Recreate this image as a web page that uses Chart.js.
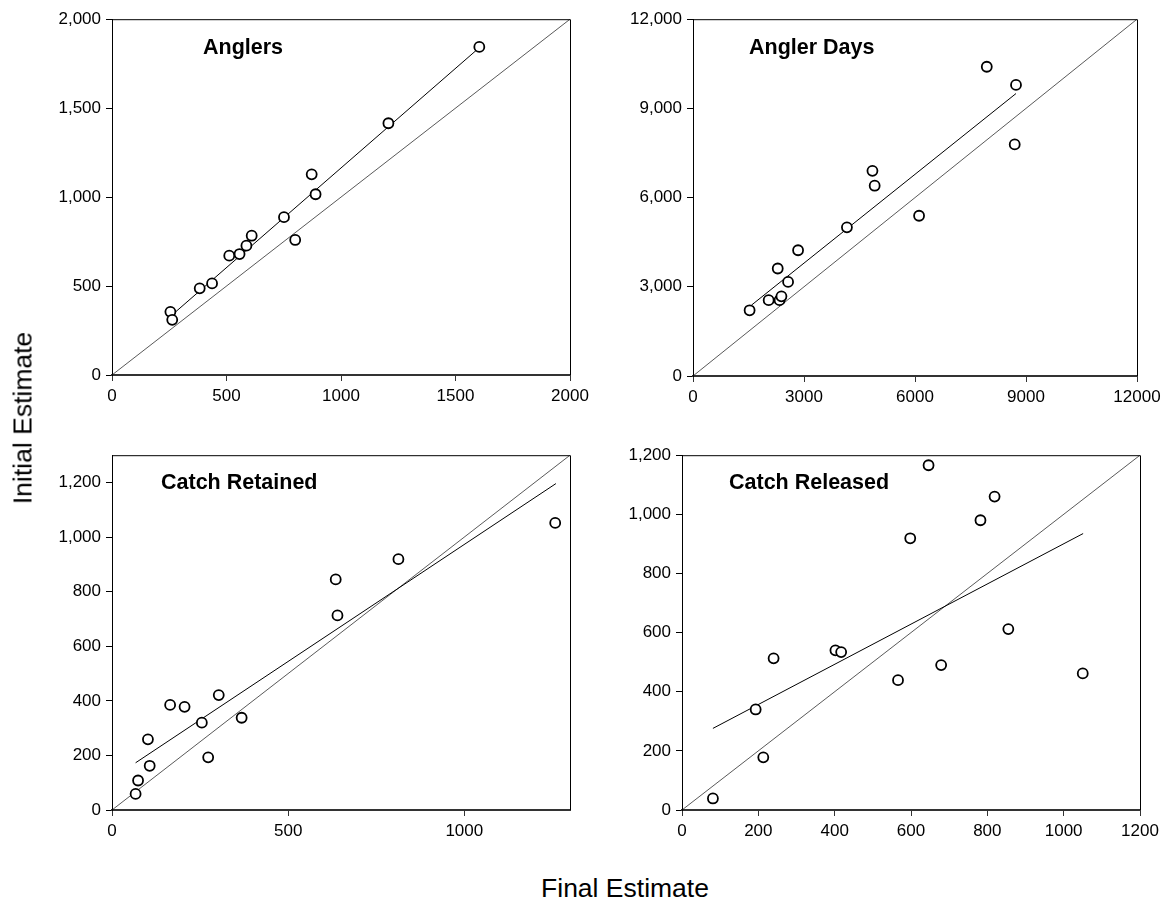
<!DOCTYPE html>
<html>
<head>
<meta charset="utf-8">
<script src="https://cdn.jsdelivr.net/npm/chart.js@4.4.1/dist/chart.umd.min.js"></script>
<style>
  body { margin: 0; background: #fff; width: 1169px; height: 905px; position: relative; overflow: hidden; }
  canvas { position: absolute; }
  .axis-title { position: absolute; font-family: "Liberation Sans", Arial, sans-serif; font-size: 26.5px; color: #000; white-space: nowrap; }
  #ytitle { left: 23px; top: 418px; transform: translate(-50%, -50%) rotate(-90deg); }
  #xtitle { left: 625px; top: 888px; transform: translate(-50%, -50%); }
</style>
</head>
<body>
<canvas id="c1"></canvas>
<canvas id="c2"></canvas>
<canvas id="c3"></canvas>
<canvas id="c4"></canvas>
<div class="axis-title" id="ytitle">Initial Estimate</div>
<div class="axis-title" id="xtitle">Final Estimate</div>
<script>
// panel titles
var panelTitles = ["Anglers", "Angler Days", "Catch Retained", "Catch Released"];

// Anglers
var anglersFinal = [255, 263, 383, 437, 512, 557, 587, 610, 751, 800, 872, 889, 1207, 1604];
var anglersInitial = [355, 310, 487, 515, 671, 680, 727, 783, 887, 759, 1128, 1016, 1415, 1844];
var anglersFitX = [260, 1604];
var anglersFitY = [335, 1840];
var anglersTicks = [0, 500, 1000, 1500, 2000];

// Angler days
var daysFinal = [1530, 2045, 2340, 2390, 2290, 2570, 2840, 4160, 4850, 4910, 6110, 7940, 8730, 8695];
var daysInitial = [2210, 2550, 2550, 2680, 3615, 3165, 4230, 5000, 6900, 6400, 5390, 10400, 9790, 7790];
var daysFitX = [1577, 8730];
var daysFitY = [2380, 9500];
var daysTicks = [0, 3000, 6000, 9000, 12000];

// Catch retained
var retainedFinal = [67, 74, 107, 102, 165, 206, 255, 273, 303, 368, 635, 640, 813, 1258];
var retainedInitial = [59, 108, 162, 259, 385, 378, 320, 193, 421, 338, 845, 713, 919, 1052];
var retainedFitX = [67, 1260];
var retainedFitY = [173, 1196];
var retainedXTicks = [0, 500, 1000];
var retainedYTicks = [0, 200, 400, 600, 800, 1000, 1200];

// Catch released
var releasedFinal = [81, 193, 213, 240, 402, 417, 566, 598, 646, 679, 782, 819, 855, 1050];
var releasedInitial = [39, 340, 178, 513, 540, 534, 439, 919, 1166, 490, 980, 1060, 612, 462];
var releasedFitX = [81, 1051];
var releasedFitY = [276, 935];
var releasedTicks = [0, 200, 400, 600, 800, 1000, 1200];

var FONT = "'Liberation Sans', Arial, sans-serif";
var PADL = 75, PADT = 15, PADR = 30, PADB = 45;

function pairs(xs, ys) {
  return xs.map(function (x, i) { return { x: x, y: ys[i] }; });
}

var framePlugin = {
  id: "frame",
  afterDraw: function (chart) {
    var a = chart.chartArea, ctx = chart.ctx;
    ctx.save();
    ctx.strokeStyle = "#000";
    ctx.lineWidth = 1;
    ctx.beginPath();
    ctx.moveTo(a.left, a.top + 0.5);
    ctx.lineTo(a.right + 0.5, a.top + 0.5);
    ctx.lineTo(a.right + 0.5, a.bottom);
    ctx.stroke();
    ctx.restore();
  }
};

var titlePlugin = {
  id: "panelTitle",
  afterDraw: function (chart, args, opts) {
    var a = chart.chartArea, ctx = chart.ctx;
    ctx.save();
    ctx.font = "bold 21.5px " + FONT;
    ctx.fillStyle = "#000";
    ctx.textBaseline = "middle";
    ctx.fillText(opts.text, a.left + opts.dx, a.top + opts.dy);
    ctx.restore();
  }
};

function makePanel(id, area, cfg) {
  var cv = document.getElementById(id);
  cv.width = (area.r - area.l) + PADL + PADR;
  cv.height = (area.b - area.t) + PADT + PADB;
  cv.style.left = (area.l - PADL) + "px";
  cv.style.top = (area.t - PADT) + "px";

  function axis(min, max, ticks, commas, isX) {
    return {
      type: "linear",
      min: min,
      max: max,
      afterBuildTicks: function (s) { s.ticks = ticks.map(function (v) { return { value: v }; }); },
      afterFit: function (s) { if (isX) { s.height = PADB; } else { s.width = PADL; } },
      grid: { display: true, drawOnChartArea: false, drawTicks: true, tickLength: 6, tickColor: isX ? "#333" : "#000" },
      border: { display: true, color: isX ? "#333" : "#000", width: isX ? 2 : 1 },
      ticks: {
        color: "#000",
        padding: 5,
        maxRotation: 0,
        font: { family: FONT, size: 17 },
        callback: function (v) { return commas ? Number(v).toLocaleString("en-US") : String(v); }
      }
    };
  }

  return new Chart(cv, {
    data: {
      datasets: [
        {
          type: "scatter",
          data: pairs(cfg.xs, cfg.ys),
          pointStyle: "circle",
          pointRadius: 5,
          pointBorderWidth: 1.8,
          pointBorderColor: "#000",
          pointBackgroundColor: "#fff"
        },
        {
          type: "line",
          data: pairs(cfg.fitX, cfg.fitY),
          borderColor: "#000",
          borderWidth: 1,
          pointRadius: 0
        },
        {
          type: "line",
          data: [{ x: 0, y: 0 }, { x: cfg.xMax, y: cfg.yMax }],
          borderColor: "#111",
          borderWidth: 0.7,
          pointRadius: 0
        }
      ]
    },
    options: {
      responsive: false,
      animation: false,
      layout: { padding: { left: 0, top: PADT, right: PADR, bottom: 0 } },
      plugins: {
        legend: { display: false },
        tooltip: { enabled: false },
        title: { display: false },
        panelTitle: { text: cfg.title, dx: cfg.dx, dy: cfg.dy }
      },
      scales: {
        x: axis(0, cfg.xMax, cfg.xTicks, false, true),
        y: axis(0, cfg.yMax, cfg.yTicks, true, false)
      }
    },
    plugins: [framePlugin, titlePlugin]
  });
}

makePanel("c1", { l: 112, t: 19, r: 570, b: 375 }, {
  xs: anglersFinal, ys: anglersInitial, fitX: anglersFitX, fitY: anglersFitY,
  xMax: 2000, yMax: 2000, xTicks: anglersTicks, yTicks: anglersTicks,
  title: panelTitles[0], dx: 91, dy: 29
});
makePanel("c2", { l: 693, t: 19, r: 1137, b: 376 }, {
  xs: daysFinal, ys: daysInitial, fitX: daysFitX, fitY: daysFitY,
  xMax: 12000, yMax: 12000, xTicks: daysTicks, yTicks: daysTicks,
  title: panelTitles[1], dx: 56, dy: 29
});
makePanel("c3", { l: 112, t: 455, r: 570, b: 810 }, {
  xs: retainedFinal, ys: retainedInitial, fitX: retainedFitX, fitY: retainedFitY,
  xMax: 1300, yMax: 1300, xTicks: retainedXTicks, yTicks: retainedYTicks,
  title: panelTitles[2], dx: 49, dy: 28
});
makePanel("c4", { l: 682, t: 455, r: 1140, b: 810 }, {
  xs: releasedFinal, ys: releasedInitial, fitX: releasedFitX, fitY: releasedFitY,
  xMax: 1200, yMax: 1200, xTicks: releasedTicks, yTicks: releasedTicks,
  title: panelTitles[3], dx: 47, dy: 28
});
</script>
</body>
</html>
